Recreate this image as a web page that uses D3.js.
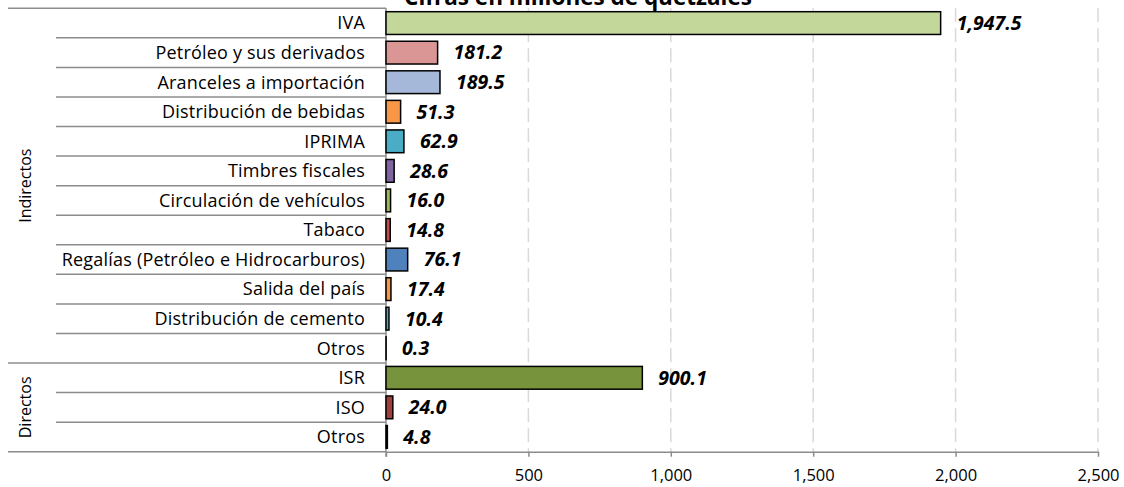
<!DOCTYPE html>
<html>
<head>
<meta charset="utf-8">
<script src="https://cdn.jsdelivr.net/npm/d3@7"></script>
<style>
  body { margin: 0; background: #fff; }
  text { font-family: "Open Sans", "Noto Sans", sans-serif; fill: #000; }
</style>
</head>
<body>
<div id="chart"></div>
<script>
// data, top to bottom as in the picture
var groups = ["Indirectos", "Directos"];
var rowGroup = ["Indirectos","Indirectos","Indirectos","Indirectos","Indirectos","Indirectos",
                "Indirectos","Indirectos","Indirectos","Indirectos","Indirectos","Indirectos",
                "Directos","Directos","Directos"];
var categories = ["IVA", "Petróleo y sus derivados", "Aranceles a importación", "Distribución de bebidas",
                  "IPRIMA", "Timbres fiscales", "Circulación de vehículos", "Tabaco",
                  "Regalías (Petróleo e Hidrocarburos)", "Salida del país", "Distribución de cemento", "Otros",
                  "ISR", "ISO", "Otros"];
var values = [1947.5, 181.2, 189.5, 51.3, 62.9, 28.6, 16.0, 14.8, 76.1, 17.4, 10.4, 0.3, 900.1, 24.0, 4.8];
var xTicks = [0, 500, 1000, 1500, 2000, 2500];
var title = "Cifras en millones de quetzales";

var palette = ["#c4d79b", "#da9694", "#a5b8d9", "#f79646", "#4bacc6", "#8064a2", "#9bbb59", "#c0504d",
               "#4f81bd", "#f79646", "#4bacc6", "#8064a2", "#77933c", "#a0403c", "#7f7f7f"];

var width = 1124, height = 487;
var svg = d3.select("#chart").append("svg")
    .attr("width", width)
    .attr("height", height);

var x = d3.scaleLinear().domain([0, 2500]).range([386, 1098]);
var y = d3.scaleBand()
    .domain(d3.range(categories.length))
    .range([8.3, 451.7])
    .paddingInner(0.23)
    .paddingOuter(0.115);
var step = y.step();
var top0 = y.range()[0], bottom0 = y.range()[1];

// gridlines
svg.append("g").selectAll("line")
  .data(xTicks.filter(function(d){ return d > 0; }))
  .enter().append("line")
    .attr("x1", function(d){ return x(d); })
    .attr("x2", function(d){ return x(d); })
    .attr("y1", top0)
    .attr("y2", bottom0)
    .attr("stroke", "#d9d9d9")
    .attr("stroke-width", 1.5)
    .attr("stroke-dasharray", "14,6");

// x axis
var xAxis = svg.append("g")
  .attr("transform", "translate(0," + bottom0 + ")")
  .call(d3.axisBottom(x).tickValues(xTicks).tickSize(5).tickSizeOuter(0)
        .tickFormat(function(d){ return d3.format(",")(d); }));
xAxis.select(".domain").attr("stroke", "#8c8c8c").attr("stroke-width", 1.5);
xAxis.selectAll(".tick line").attr("stroke", "#8c8c8c").attr("stroke-width", 1.5);
xAxis.selectAll(".tick text")
  .attr("y", 17.5)
  .style("font-size", "16.5px")
  .style("font-family", "'Open Sans', 'Noto Sans', sans-serif")
  .attr("fill", "#000");

// category table: row separators
var lineColor = "#8c8c8c";
var seps = svg.append("g");
for (var i = 0; i <= categories.length; i++) {
  var yy = top0 + i * step;
  var isGroupEdge = (i === 0 || i === categories.length || rowGroup[i] !== rowGroup[i - 1]);
  seps.append("line")
    .attr("x1", isGroupEdge ? 8 : 56)
    .attr("x2", x(0))
    .attr("y1", yy).attr("y2", yy)
    .attr("stroke", lineColor)
    .attr("stroke-width", 1.5);
}
// vertical axis line
seps.append("line")
  .attr("x1", x(0)).attr("x2", x(0))
  .attr("y1", top0).attr("y2", bottom0 + 5)
  .attr("stroke", lineColor)
  .attr("stroke-width", 1.5);

// category labels
svg.append("g").selectAll("text")
  .data(categories)
  .enter().append("text")
    .attr("x", 365)
    .attr("y", function(d, i){ return y(i) + y.bandwidth() / 2; })
    .attr("dy", "0.35em")
    .attr("text-anchor", "end")
    .style("font-size", "18px")
    .style("letter-spacing", "0.2px")
    .text(function(d){ return d; });

// group labels
groups.forEach(function(g) {
  var idx = d3.range(categories.length).filter(function(i){ return rowGroup[i] === g; });
  var y1 = top0 + d3.min(idx) * step, y2 = top0 + (d3.max(idx) + 1) * step;
  svg.append("text")
    .attr("transform", "translate(25," + ((y1 + y2) / 2) + ") rotate(-90)")
    .attr("dy", "0.35em")
    .attr("text-anchor", "middle")
    .style("font-size", "16px")
    .text(g);
});

// bars
svg.append("g").selectAll("rect")
  .data(values)
  .enter().append("rect")
    .attr("x", x(0))
    .attr("y", function(d, i){ return y(i); })
    .attr("width", function(d){ return x(d) - x(0); })
    .attr("height", y.bandwidth())
    .attr("fill", function(d, i){ return palette[i]; })
    .attr("stroke", "#000")
    .attr("stroke-width", 1.5);

// value labels
svg.append("g").selectAll("text")
  .data(values)
  .enter().append("text")
    .attr("x", function(d){ return x(d) + 16; })
    .attr("y", function(d, i){ return y(i) + y.bandwidth() / 2; })
    .attr("dy", "0.35em")
    .style("font-size", "19.5px")
    .style("font-weight", "bold")
    .style("font-style", "italic")
    .text(function(d){ return d3.format(",.1f")(d); });

// title (cut off at the top as in the source)
svg.append("text")
  .attr("x", 578)
  .attr("y", 5)
  .attr("text-anchor", "middle")
  .style("font-size", "22.5px")
  .style("font-weight", "bold")
  .text(title);
</script>
</body>
</html>
